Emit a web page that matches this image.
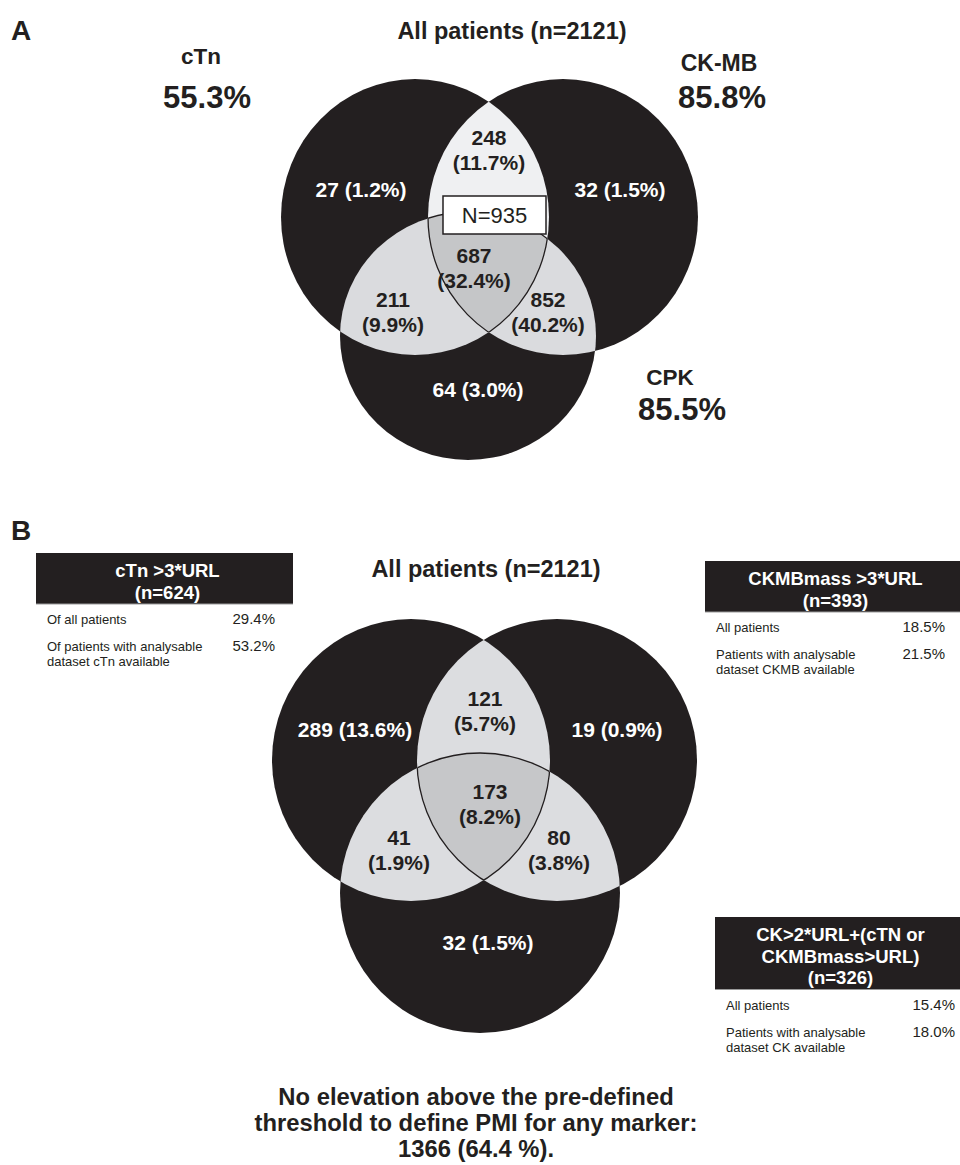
<!DOCTYPE html>
<html>
<head>
<meta charset="utf-8">
<script src="https://cdn.jsdelivr.net/npm/d3@7"></script>
<style>
  body { margin: 0; background: #fff; }
  svg { display: block; font-family: 'Liberation Sans', Arial, Helvetica, sans-serif; }
</style>
</head>
<body>
<div id="wrapper"></div>
<script>
// regions: L = left set only, R = right only, B = bottom only, LR, LB, RB, LRB = all three
const regionKeys = ['L', 'R', 'B', 'LR', 'LB', 'RB', 'LRB']

const setNamesA = ['cTn', 'CK-MB', 'CPK']
const setPctsA = ['55.3%', '85.8%', '85.5%']
const countsA = [27, 32, 64, 248, 211, 852, 687]
const pctsA = [1.2, 1.5, 3.0, 11.7, 9.9, 40.2, 32.4]
const centreBoxA = 'N=935'

const countsB = [289, 19, 32, 121, 41, 80, 173]
const pctsB = [13.6, 0.9, 1.5, 5.7, 1.9, 3.8, 8.2]

const panelTitle = 'All patients (n=2121)'

const tableCTn = {
  header: ['cTn >3*URL', '(n=624)'],
  rows: [['Of all patients'], ['Of patients with analysable', 'dataset cTn available']],
  values: ['29.4%', '53.2%'],
}
const tableCKMB = {
  header: ['CKMBmass >3*URL', '(n=393)'],
  rows: [['All patients'], ['Patients with analysable', 'dataset CKMB available']],
  values: ['18.5%', '21.5%'],
}
const tableCK = {
  header: ['CK>2*URL+(cTN or', 'CKMBmass>URL)', '(n=326)'],
  rows: [['All patients'], ['Patients with analysable', 'dataset CK available']],
  values: ['15.4%', '18.0%'],
}

const footnoteLines = [
  'No elevation above the pre-defined',
  'threshold to define PMI for any marker:',
  '1366 (64.4 %).',
]

const BLACK = '#231f20'
const TXT = '#231f20'

const width = 960
const height = 1165

const svg = d3
  .select('#wrapper')
  .append('svg')
  .attr('width', width)
  .attr('height', height)

const defs = svg.append('defs')

// ---------- venn drawing ----------
function drawVenn(id, geo, counts, pcts, labelPos, twoLine, fills) {
  const g = svg.append('g').attr('class', 'venn-' + id)

  ;['L', 'R', 'B'].forEach((k) => {
    defs
      .append('clipPath')
      .attr('id', `${id}-${k}`)
      .append('ellipse')
      .attr('cx', geo[k].cx)
      .attr('cy', geo[k].cy)
      .attr('rx', geo[k].rx)
      .attr('ry', geo[k].ry)
  })

  const ell = (sel, k) =>
    sel
      .append('ellipse')
      .attr('cx', geo[k].cx)
      .attr('cy', geo[k].cy)
      .attr('rx', geo[k].rx)
      .attr('ry', geo[k].ry)

  const clipped = (keys) => {
    let s = g
    keys.forEach((k) => {
      s = s.append('g').attr('clip-path', `url(#${id}-${k})`)
    })
    return s
  }

  // single sets
  ;['L', 'R', 'B'].forEach((k) => ell(g, k).attr('fill', BLACK))

  // pairwise overlaps
  ell(clipped(['L']), 'R').attr('fill', fills.LR)
  ell(clipped(['L']), 'B').attr('fill', fills.LB)
  ell(clipped(['R']), 'B').attr('fill', fills.RB)
  // triple overlap
  ell(clipped(['L', 'R']), 'B').attr('fill', fills.LRB)

  // thin outlines inside the light area
  const strokes = [
    ['B', ['L', 'R']],
    ['L', ['R', 'B']],
    ['R', ['L', 'B']],
  ]
  strokes.forEach(([k, clips]) => {
    ell(clipped(clips), k)
      .attr('fill', 'none')
      .attr('stroke', BLACK)
      .attr('stroke-width', 1.3)
  })

  // labels
  const fmt = (i) => `${counts[i]}`
  const fmtPct = (i) => `(${pcts[i].toFixed(1)}%)`
  regionKeys.forEach((k, i) => {
    const p = labelPos[k]
    const single = ['L', 'R', 'B'].includes(k)
    const t = g
      .append('text')
      .attr('x', p[0])
      .attr('y', p[1])
      .attr('text-anchor', 'middle')
      .attr('font-weight', 'bold')
      .attr('font-size', 21)
      .attr('fill', single ? '#fff' : TXT)
    if (twoLine.includes(k)) {
      t.append('tspan').attr('x', p[0]).text(fmt(i))
      t.append('tspan').attr('x', p[0]).attr('dy', 25).text(fmtPct(i))
    } else {
      t.text(`${fmt(i)} ${fmtPct(i)}`)
    }
  })
  return g
}

// ---------- tables ----------
function drawTable(t, x, y, w, valueRight) {
  const g = svg.append('g').attr('transform', `translate(${x},${y})`)
  const lineH = 21.5
  const h = 8 + t.header.length * lineH
  g.append('rect').attr('width', w).attr('height', h).attr('fill', BLACK)
  g.append('line')
    .attr('x1', 0)
    .attr('x2', w)
    .attr('y1', h)
    .attr('y2', h)
    .attr('stroke', '#9a9a9a')
    .attr('stroke-width', 1)
  t.header.forEach((line, i) => {
    g.append('text')
      .attr('x', w / 2 + 3)
      .attr('y', 24 + i * lineH)
      .attr('text-anchor', 'middle')
      .attr('font-weight', 'bold')
      .attr('font-size', 18.5)
      .attr('fill', '#fff')
      .text(line)
  })
  t.rows.forEach((lines, r) => {
    const by = h + 20 + r * 27
    lines.forEach((line, j) => {
      g.append('text')
        .attr('x', 11)
        .attr('y', by + j * 15)
        .attr('font-size', 13)
        .attr('fill', TXT)
        .text(line)
    })
    g.append('text')
      .attr('x', valueRight)
      .attr('y', by)
      .attr('text-anchor', 'end')
      .attr('font-size', 15)
      .attr('fill', TXT)
      .text(t.values[r])
  })
}

// ---------- panel A ----------
const boldText = (x, y, size, txt, anchor = 'middle', weight = 'bold') =>
  svg
    .append('text')
    .attr('x', x)
    .attr('y', y)
    .attr('text-anchor', anchor)
    .attr('font-weight', weight)
    .attr('font-size', size)
    .attr('fill', TXT)
    .text(txt)

boldText(11, 40, 28, 'A', 'start')
boldText(512, 39, 23.5, panelTitle)

drawVenn(
  'a',
  {
    L: { cx: 415, cy: 217, rx: 134, ry: 138 },
    R: { cx: 563, cy: 217, rx: 135, ry: 138 },
    B: { cx: 468, cy: 336, rx: 128, ry: 124 },
  },
  countsA,
  pctsA,
  {
    L: [361, 197],
    R: [620, 197],
    B: [478, 397],
    LR: [489, 145],
    LB: [393, 307],
    RB: [548, 307],
    LRB: [474, 263],
  },
  ['LR', 'LB', 'RB', 'LRB'],
  { LR: '#eff0f2', LB: '#dadbde', RB: '#dadbde', LRB: '#c5c6c8' }
)

// N box
svg
  .append('rect')
  .attr('x', 443)
  .attr('y', 196)
  .attr('width', 103)
  .attr('height', 38)
  .attr('fill', '#fff')
  .attr('stroke', BLACK)
  .attr('stroke-width', 1.5)
boldText(494.5, 223, 22, centreBoxA, 'middle', 'normal')

// set names and percentages
boldText(201, 64, 22.5, setNamesA[0])
boldText(207, 108, 31, setPctsA[0])
boldText(719, 71, 23, setNamesA[1])
boldText(722, 108, 31, setPctsA[1])
boldText(670, 385, 22.5, setNamesA[2])
boldText(682, 420, 31, setPctsA[2])

// ---------- panel B ----------
boldText(11, 540, 28, 'B', 'start')
boldText(486, 577, 23.5, panelTitle)

drawVenn(
  'b',
  {
    L: { cx: 411, cy: 760, rx: 139, ry: 141 },
    R: { cx: 557, cy: 760, rx: 140, ry: 141 },
    B: { cx: 480, cy: 893, rx: 140, ry: 140 },
  },
  countsB,
  pctsB,
  {
    L: [355, 737],
    R: [617, 737],
    B: [488, 950],
    LR: [485, 706],
    LB: [399, 845],
    RB: [559, 845],
    LRB: [490, 799],
  },
  ['LR', 'LB', 'RB', 'LRB'],
  { LR: '#dcdde0', LB: '#dcdde0', RB: '#dcdde0', LRB: '#c6c7c9' }
)

drawTable(tableCTn, 36, 553, 257, 239)
drawTable(tableCKMB, 705, 561, 255, 240)
drawTable(tableCK, 715, 917, 245, 240)

// footnote
footnoteLines.forEach((line, i) => {
  boldText(476, 1105 + i * 26, 23.8, line)
})
</script>
</body>
</html>
